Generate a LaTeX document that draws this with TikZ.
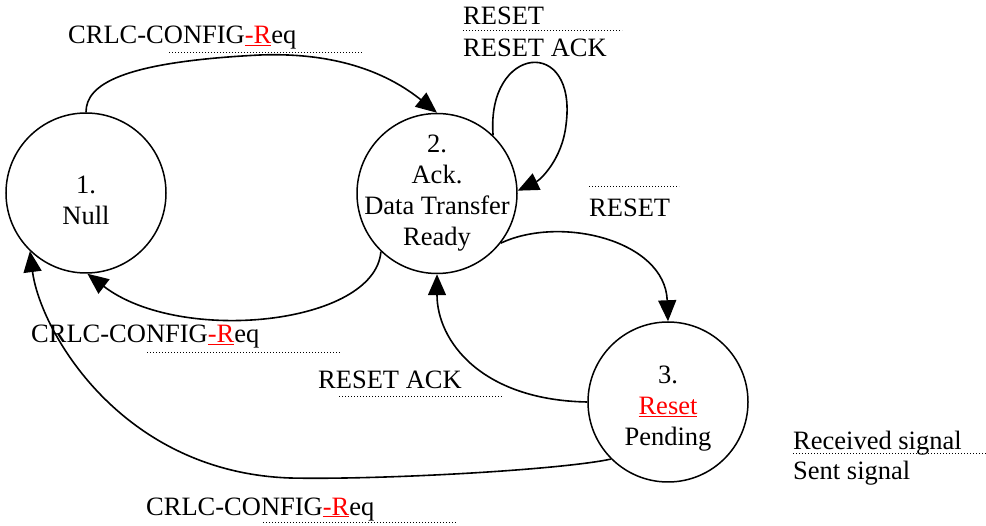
\documentclass[tikz,border=0pt]{standalone}
\usepackage{fontspec}
\setmainfont{Liberation Serif}
\usetikzlibrary{arrows.meta}
\newcommand\redR{\textcolor{red}{\underline{-R}}}
\begin{document}
\begin{tikzpicture}[x=1pt,y=-1pt,
 state/.style={circle,draw,line width=1.5pt,minimum size=160pt,inner sep=0pt},
 stext/.style={align=center,font=\fontsize{26.5}{31}\selectfont,inner sep=0pt},
 lbl/.style={anchor=base west,inner sep=0pt,font=\fontsize{26.5}{31}\selectfont},
 conn/.style={line width=1.6pt,-{Triangle[length=21pt,width=18pt]}},
 sepline/.style={line width=1pt,dash pattern=on 1pt off 2pt}]
\useasboundingbox (0,0) rectangle (986,526);
% states
\node[state] (s1) at (86,193) {};
\node[state] (s2) at (437,193.5) {};
\node[state] (s3) at (668,402) {};
\node[stext] (t1) at (86,200) {1.\\Null};
\node[stext] (t2) at (437,193) {2.\\Ack.\\Data Transfer\\Ready};
\node[stext] (t3) at (668,409) {3.\\\textcolor{red}{\underline{Reset}}\\Pending};
% connectors
\draw[conn] (s1.90) .. controls (86,85) and (120,62) .. (260,55) .. controls (340,52) and (390,75) .. (s2.90);
\draw[conn] (s2.46) .. controls (486,45) and (578,35) .. (566,125) .. controls (562,160) and (540,180) .. (s2.2);
\draw[conn] (s2.-38) .. controls (560,215) and (665,240) .. (s3.90);
\draw[conn] (s2.-134) .. controls (375,325) and (180,345) .. (s1.-89);
\draw[conn] (s3.180) .. controls (480,400) and (437,340) .. (s2.-90);
\draw[conn] (s3.-135) .. controls (560,470) and (380,480) .. (290,478) .. controls (120,472) and (40,330) .. (s1.-134);
% labels
\node[lbl] (l1) at (68,44) {CRLC-CONFIG\redR eq};
\draw[sepline] (169,53) -- (363,53);
\node[lbl] (l2a) at (463,25) {RESET};
\draw[sepline] (463,31) -- (622,31);
\node[lbl] (l2b) at (463,57) {RESET ACK};
\draw[sepline] (589,187) -- (679,187);
\node[lbl] (l3) at (589,217) {RESET};
\node[lbl] (l4) at (31,343) {CRLC-CONFIG\redR eq};
\draw[sepline] (147,353) -- (341,353);
\node[lbl] (l5) at (318,389) {RESET ACK};
\draw[sepline] (339,397) -- (502,397);
\node[lbl] (l6) at (146,515) {CRLC-CONFIG\redR eq};
\draw[sepline] (263,523) -- (457,523);
\node[lbl] (lg1) at (793,450) {Received signal};
\draw[sepline] (793,454) -- (986,454);
\node[lbl] (lg2) at (793,480) {Sent signal};
\end{tikzpicture}
\end{document}
